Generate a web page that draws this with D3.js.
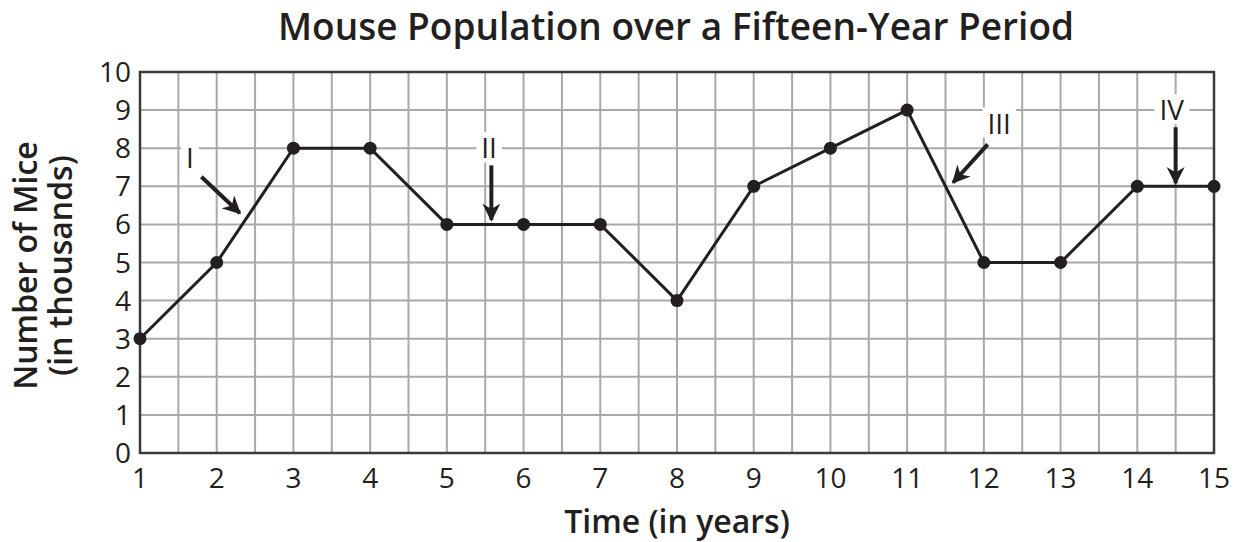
<!DOCTYPE html>
<html>
<head>
<meta charset="utf-8">
<script src="https://cdn.jsdelivr.net/npm/d3@7"></script>
<style>
  body { margin: 0; background: #fff; }
  text { font-family: "Open Sans", "Noto Sans", sans-serif; fill: #231f20; }
  .title { font-size: 37px; font-weight: 600; }
  .axis-label { font-size: 32px; font-weight: 600; }
  .tick-label { font-size: 28px; }
  .note { font-size: 28px; }
</style>
</head>
<body>
<div id="chart"></div>
<script>
// data
const years = [1, 2, 3, 4, 5, 6, 7, 8, 9, 10, 11, 12, 13, 14, 15];
const mice = [3, 5, 8, 8, 6, 6, 6, 4, 7, 8, 9, 5, 5, 7, 7];
const yTicks = [0, 1, 2, 3, 4, 5, 6, 7, 8, 9, 10];
// annotations: label, text position, arrow start, arrow end (data units)
const notes = [
  { label: "I",   tx: 1.65, ty: 7.75, x1: 1.8,  y1: 7.25, x2: 2.3,  y2: 6.3 },
  { label: "II",  tx: 5.55, ty: 8.0, x1: 5.58, y1: 7.55, x2: 5.58, y2: 6.12 },
  { label: "III", tx: 12.2, ty: 8.65, x1: 12.05, y1: 8.1, x2: 11.6, y2: 7.1 },
  { label: "IV",  tx: 14.45, ty: 9.0, x1: 14.5, y1: 8.55, x2: 14.5, y2: 7.08 }
];

const W = 1245, H = 542;
const margin = { top: 72, right: 31, bottom: 89, left: 140 },
      width = W - margin.left - margin.right,
      height = H - margin.top - margin.bottom;

const svg = d3.select("#chart").append("svg")
    .attr("width", W)
    .attr("height", H);

const g = svg.append("g")
    .attr("transform", `translate(${margin.left},${margin.top})`);

const x = d3.scaleLinear().domain([1, 15]).range([0, width]);
const y = d3.scaleLinear().domain([0, 10]).range([height, 0]);

// grid: half-year verticals, integer horizontals
const halfYears = d3.range(1, 15.01, 0.5);
g.selectAll(".vgrid").data(halfYears).enter().append("line")
    .attr("x1", d => x(d)).attr("x2", d => x(d))
    .attr("y1", 0).attr("y2", height)
    .attr("stroke", "#a7a9ac").attr("stroke-width", 2);

g.selectAll(".hgrid").data(yTicks).enter().append("line")
    .attr("x1", 0).attr("x2", width)
    .attr("y1", d => y(d)).attr("y2", d => y(d))
    .attr("stroke", "#a7a9ac").attr("stroke-width", 2);

// frame
g.append("rect")
    .attr("width", width).attr("height", height)
    .attr("fill", "none").attr("stroke", "#3a3a3a").attr("stroke-width", 2.5);

// tick labels
g.selectAll(".ylab").data(yTicks).enter().append("text")
    .attr("class", "tick-label")
    .attr("x", -9).attr("y", d => y(d))
    .attr("dy", "0.36em")
    .attr("text-anchor", "end")
    .text(d => d);

g.selectAll(".xlab").data(years).enter().append("text")
    .attr("class", "tick-label")
    .attr("x", d => x(d)).attr("y", height + 35)
    .attr("text-anchor", "middle")
    .text(d => d);

// annotation labels (white box behind)
notes.forEach(n => {
    const t = g.append("text")
        .attr("class", "note")
        .attr("x", x(n.tx)).attr("y", y(n.ty))
        .attr("dy", "0.36em")
        .attr("text-anchor", "middle")
        .text(n.label);
    const bb = t.node().getBBox();
    g.insert("rect", "text.note")
        .attr("x", bb.x - 5).attr("y", bb.y + 4)
        .attr("width", bb.width + 10).attr("height", bb.height - 8)
        .attr("fill", "#fff");
});

// arrows
svg.append("defs").append("marker")
    .attr("id", "head")
    .attr("viewBox", "0 0 10 10")
    .attr("refX", 9).attr("refY", 5)
    .attr("markerWidth", 4.5).attr("markerHeight", 4.5)
    .attr("markerUnits", "strokeWidth")
    .attr("orient", "auto")
    .append("path")
    .attr("d", "M0,0 L10,5 L0,10 L3,5 Z")
    .attr("fill", "#231f20");

g.selectAll(".arrow").data(notes).enter().append("line")
    .attr("x1", d => x(d.x1)).attr("y1", d => y(d.y1))
    .attr("x2", d => x(d.x2)).attr("y2", d => y(d.y2))
    .attr("stroke", "#231f20").attr("stroke-width", 4)
    .attr("marker-end", "url(#head)");

// line + points
const line = d3.line()
    .x((d, i) => x(years[i]))
    .y(d => y(d));

g.append("path")
    .datum(mice)
    .attr("d", line)
    .attr("fill", "none")
    .attr("stroke", "#231f20")
    .attr("stroke-width", 3);

g.selectAll("circle").data(mice).enter().append("circle")
    .attr("cx", (d, i) => x(years[i]))
    .attr("cy", d => y(d))
    .attr("r", 6.5)
    .attr("fill", "#231f20");

// titles
svg.append("text")
    .attr("class", "title")
    .attr("x", 676).attr("y", 40)
    .attr("text-anchor", "middle")
    .text("Mouse Population over a Fifteen-Year Period");

svg.append("text")
    .attr("class", "axis-label")
    .attr("x", 677).attr("y", 533)
    .attr("text-anchor", "middle")
    .text("Time (in years)");

const yl = svg.append("text")
    .attr("class", "axis-label")
    .attr("transform", `translate(0,${margin.top + height / 2 + 3}) rotate(-90)`)
    .attr("text-anchor", "middle");
yl.append("tspan").attr("x", 0).attr("y", 37).text("Number of Mice");
yl.append("tspan").attr("x", 0).attr("y", 72).text("(in thousands)");
</script>
</body>
</html>
